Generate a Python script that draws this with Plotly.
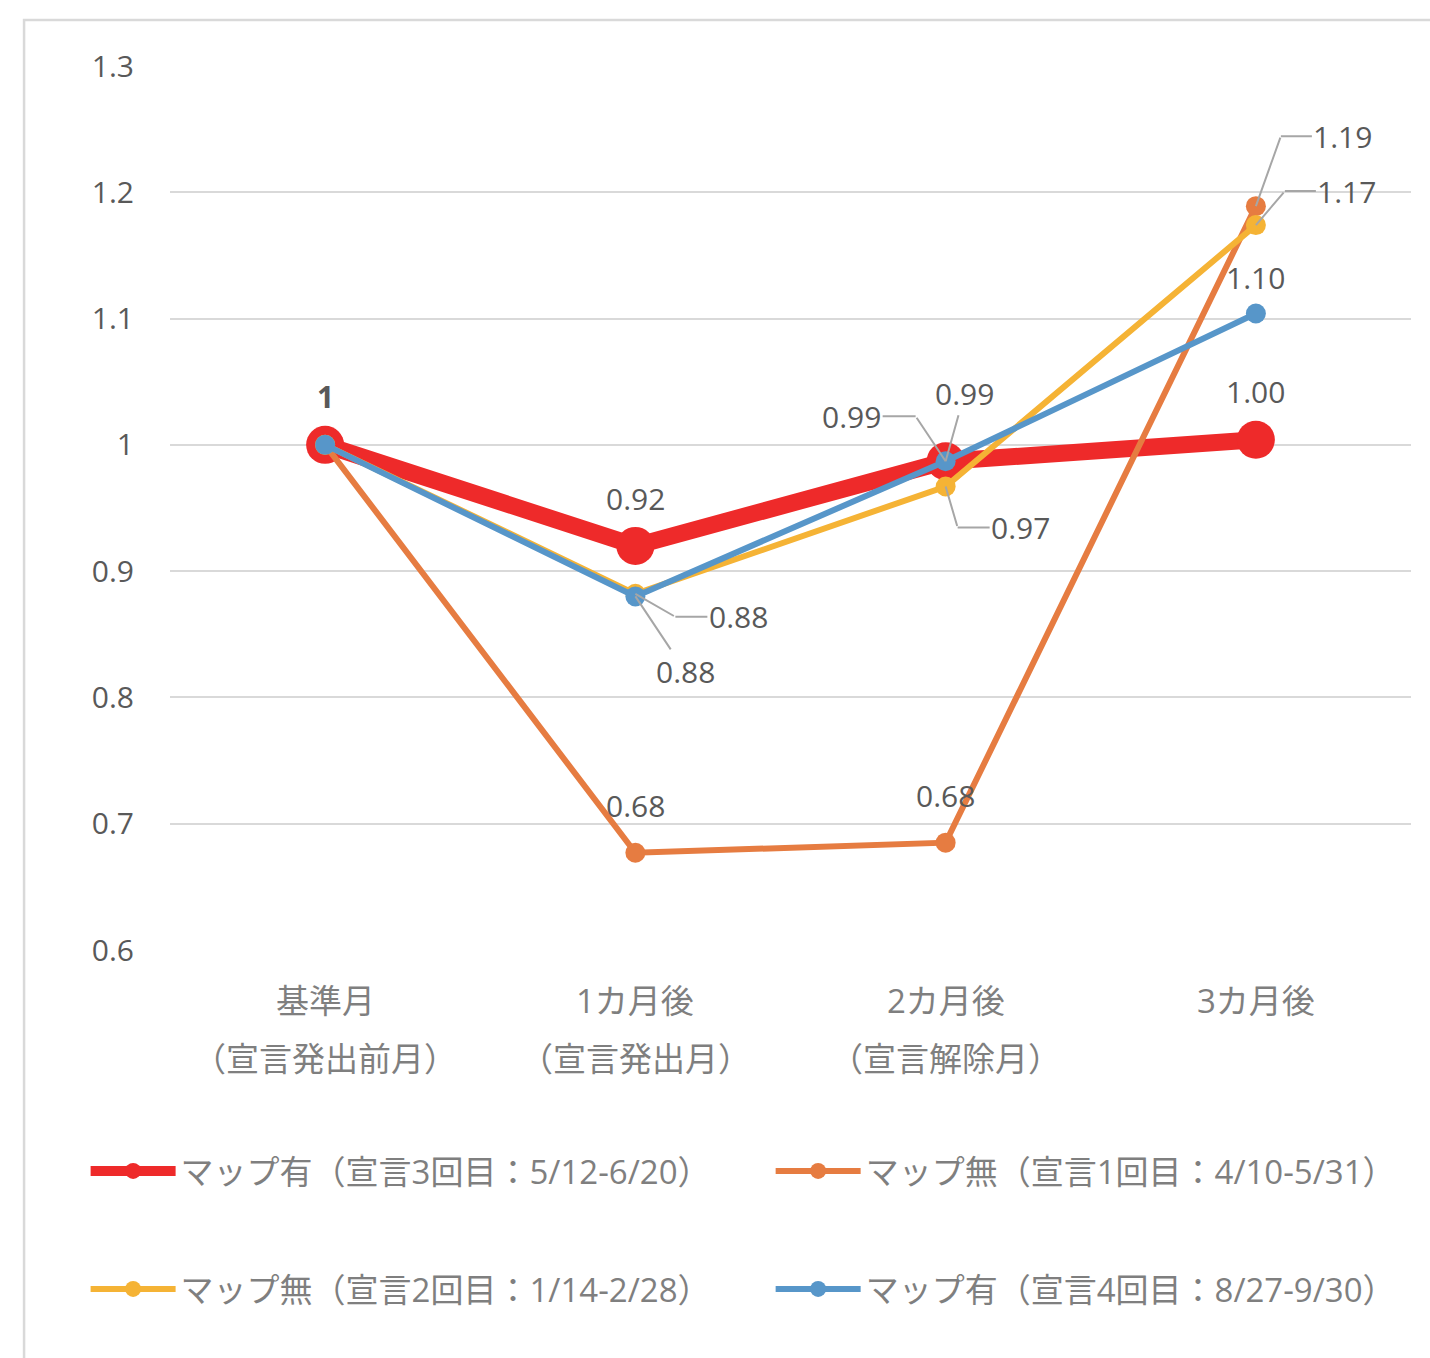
import plotly.graph_objects as go

categories = ["基準月", "1カ月後", "2カ月後", "3カ月後"]
subcategories = ["（宣言発出前月）", "（宣言発出月）", "（宣言解除月）", ""]

names = [
    "マップ有（宣言3回目：5/12-6/20）",
    "マップ無（宣言1回目：4/10-5/31）",
    "マップ無（宣言2回目：1/14-2/28）",
    "マップ有（宣言4回目：8/27-9/30）",
]
red_vals = [1.0, 0.92, 0.987, 1.004]
orange_vals = [1.0, 0.677, 0.685, 1.189]
yellow_vals = [1.0, 0.882, 0.967, 1.174]
blue_vals = [1.0, 0.880, 0.987, 1.104]

red_labels = ["1", "0.92", "0.99", "1.00"]
orange_labels = ["", "0.68", "0.68", "1.19"]
yellow_labels = ["", "0.88", "0.97", "1.17"]
blue_labels = ["", "0.88", "0.99", "1.10"]

y_ticks = [0.6, 0.7, 0.8, 0.9, 1, 1.1, 1.2, 1.3]
y_ticktext = ["0.6", "0.7", "0.8", "0.9", "1", "1.1", "1.2", "1.3"]

FONT = "Open Sans, Noto Sans CJK JP, sans-serif"
TXT = "#595959"
LEGTXT = "#7F7F7F"
LEADER = "#A6A6A6"

RED, ORANGE, YELLOW, BLUE = "#EE2A2A", "#E67C41", "#F5B335", "#5796C9"
xs = list(range(len(categories)))

fig = go.Figure()
fig.add_trace(go.Scatter(x=xs, y=red_vals, name=names[0], mode="lines+markers",
                         line=dict(color=RED, width=17), marker=dict(size=38, color=RED),
                         legend="legend"))
fig.add_trace(go.Scatter(x=xs, y=orange_vals, name=names[1], mode="lines+markers",
                         line=dict(color=ORANGE, width=6), marker=dict(size=20, color=ORANGE),
                         legend="legend2"))
fig.add_trace(go.Scatter(x=xs, y=yellow_vals, name=names[2], mode="lines+markers",
                         line=dict(color=YELLOW, width=6), marker=dict(size=20, color=YELLOW),
                         legend="legend3"))
fig.add_trace(go.Scatter(x=xs, y=blue_vals, name=names[3], mode="lines+markers",
                         line=dict(color=BLUE, width=6), marker=dict(size=20, color=BLUE),
                         legend="legend4"))

ann = []
LF = dict(family=FONT, size=30, color=TXT)


def lab(x, y, t, dy=-48, bold=False):
    ann.append(dict(x=x, y=y, xref="x", yref="y", text=("<b>%s</b>" % t) if bold else t,
                    showarrow=False, yshift=-dy, font=LF))


def straight(x, y, t, ax, ay):
    ann.append(dict(x=x, y=y, xref="x", yref="y", text=t, showarrow=True, ax=ax, ay=ay,
                    arrowhead=0, arrowwidth=2, arrowcolor=LEADER, font=LF, standoff=0))


def elbow(x, y, t, cx, cy, lx):
    # diagonal part: from data point to the elbow corner
    ann.append(dict(x=x, y=y, xref="x", yref="y", text="", showarrow=True, ax=cx, ay=cy,
                    arrowhead=0, arrowwidth=2, arrowcolor=LEADER, font=dict(size=1), standoff=0))
    # horizontal stub + label
    ann.append(dict(x=x, y=y, xref="x", yref="y", text=t, showarrow=True, xshift=cx, yshift=-cy,
                    ax=lx, ay=0, arrowhead=0, arrowwidth=2, arrowcolor=LEADER, font=LF, standoff=0))


# red
lab(0, red_vals[0], red_labels[0], dy=-48, bold=True)
lab(1, red_vals[1], red_labels[1], dy=-47)
elbow(2, red_vals[2], red_labels[2], -30, -45, -64)
lab(3, red_vals[3], red_labels[3], dy=-48)
# orange
lab(1, orange_vals[1], orange_labels[1], dy=-47)
lab(2, orange_vals[2], orange_labels[2], dy=-47)
elbow(3, orange_vals[3], orange_labels[3], 25, -70, 62)
# yellow
elbow(1, yellow_vals[1], yellow_labels[1], 40, 23, 63)
elbow(2, yellow_vals[2], yellow_labels[2], 12, 41, 63)
elbow(3, yellow_vals[3], yellow_labels[3], 29, -34, 62)
# blue
straight(1, blue_vals[1], blue_labels[1], 50, 75)
straight(2, blue_vals[2], blue_labels[2], 19, -68)
lab(3, blue_vals[3], blue_labels[3], dy=-36)

CF = dict(family=FONT, size=33, color=LEGTXT)
for i, (c, s) in enumerate(zip(categories, subcategories)):
    ann.append(dict(x=i, y=0, xref="x", yref="paper", text=c, showarrow=False, yshift=-50,
                    yanchor="middle", font=CF))
    if s:
        ann.append(dict(x=i, y=0, xref="x", yref="paper", text=s, showarrow=False, yshift=-108,
                        yanchor="middle", font=CF))


def leg(x, y):
    return dict(orientation="h", x=x, y=y, xanchor="left", yanchor="middle", itemwidth=85,
                font=dict(family=FONT, size=33, color=LEGTXT), bgcolor="rgba(0,0,0,0)")


fig.update_layout(
    width=1430, height=1358,
    margin=dict(l=170, r=19, t=66, b=408),
    paper_bgcolor="white", plot_bgcolor="white",
    font=dict(family=FONT, color=TXT),
    annotations=ann,
    showlegend=True,
    xaxis=dict(range=[-0.5, 3.5], showticklabels=False, showgrid=False, zeroline=False,
               showline=False, fixedrange=True),
    yaxis=dict(range=[0.6, 1.3], tickvals=y_ticks, ticktext=y_ticktext, showgrid=True,
               gridcolor="#D9D9D9", gridwidth=2, zeroline=False, showline=False,
               ticklabelstandoff=35, tickfont=dict(family=FONT, size=30, color=TXT)),
    legend=leg(-0.068, -0.25),
    legend2=leg(0.484, -0.25),
    legend3=leg(-0.068, -0.3835),
    legend4=leg(0.484, -0.3835),
    shapes=[dict(type="rect", xref="paper", yref="paper", x0=-0.1176, x1=1.2, y0=-0.6, y1=1.052,
                 line=dict(color="#D9D9D9", width=2.5), fillcolor="rgba(0,0,0,0)", layer="below")],
)

fig.write_html("out.html")
